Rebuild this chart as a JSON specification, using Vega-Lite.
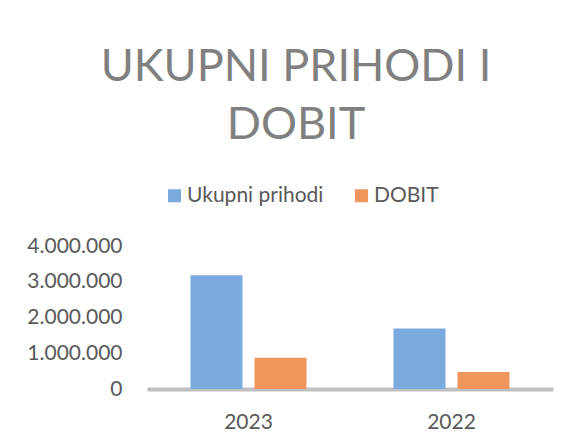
{
  "$schema": "https://vega.github.io/schema/vega-lite/v6.json",
  "width": 406,
  "height": 143,
  "autosize": {"type": "none"},
  "padding": {"left": 147, "top": 246, "right": 24, "bottom": 54},
  "background": "white",
  "config": {
    "locale": {"number": {"decimal": ",", "thousands": ".", "grouping": [3], "currency": ["", ""]}},
    "view": {"stroke": null},
    "font": "Lato"
  },
  "title": {
    "text": ["UKUPNI PRIHODI I", "DOBIT"],
    "fontSize": 45,
    "font": "Lato",
    "fontWeight": "normal",
    "color": "#808080",
    "lineHeight": 58,
    "frame": "group",
    "anchor": "middle",
    "dx": -54,
    "offset": 37
  },
  "data": {
    "values": [
      {"godina": "2023", "serija": "Ukupni prihodi", "vrijednost": 3180000},
      {"godina": "2023", "serija": "DOBIT", "vrijednost": 875000},
      {"godina": "2022", "serija": "Ukupni prihodi", "vrijednost": 1690000},
      {"godina": "2022", "serija": "DOBIT", "vrijednost": 475000}
    ]
  },
  "mark": {"type": "bar"},
  "encoding": {
    "x": {
      "field": "godina",
      "type": "nominal",
      "sort": ["2023", "2022"],
      "scale": {"paddingInner": 0.4286, "paddingOuter": 0.2143},
      "axis": {
        "title": null,
        "labelAngle": 0,
        "labelFontSize": 21,
        "labelColor": "#595959",
        "labelFont": "Lato",
        "labelPadding": 22,
        "ticks": false,
        "domainColor": "#bfbfbf",
        "domainWidth": 4
      }
    },
    "xOffset": {
      "field": "serija",
      "type": "nominal",
      "sort": ["Ukupni prihodi", "DOBIT"],
      "scale": {"paddingInner": 0.1875, "paddingOuter": 0}
    },
    "y": {
      "field": "vrijednost",
      "type": "quantitative",
      "scale": {"domain": [0, 4000000]},
      "axis": {
        "title": null,
        "values": [0, 1000000, 2000000, 3000000, 4000000],
        "format": ",d",
        "labelFontSize": 21,
        "labelColor": "#595959",
        "labelFont": "Lato",
        "labelPadding": 25,
        "domain": false,
        "ticks": false,
        "grid": false
      }
    },
    "color": {
      "field": "serija",
      "type": "nominal",
      "sort": ["Ukupni prihodi", "DOBIT"],
      "scale": {"domain": ["Ukupni prihodi", "DOBIT"], "range": ["#7aaade", "#f0955c"]},
      "legend": {
        "title": null,
        "orient": "none",
        "direction": "horizontal",
        "legendX": 17,
        "legendY": -61,
        "symbolType": "square",
        "symbolSize": 169,
        "symbolStrokeWidth": 0,
        "labelFontSize": 21,
        "labelColor": "#595959",
        "labelFont": "Lato",
        "labelOffset": 2,
        "columnPadding": 27
      }
    }
  }
}
